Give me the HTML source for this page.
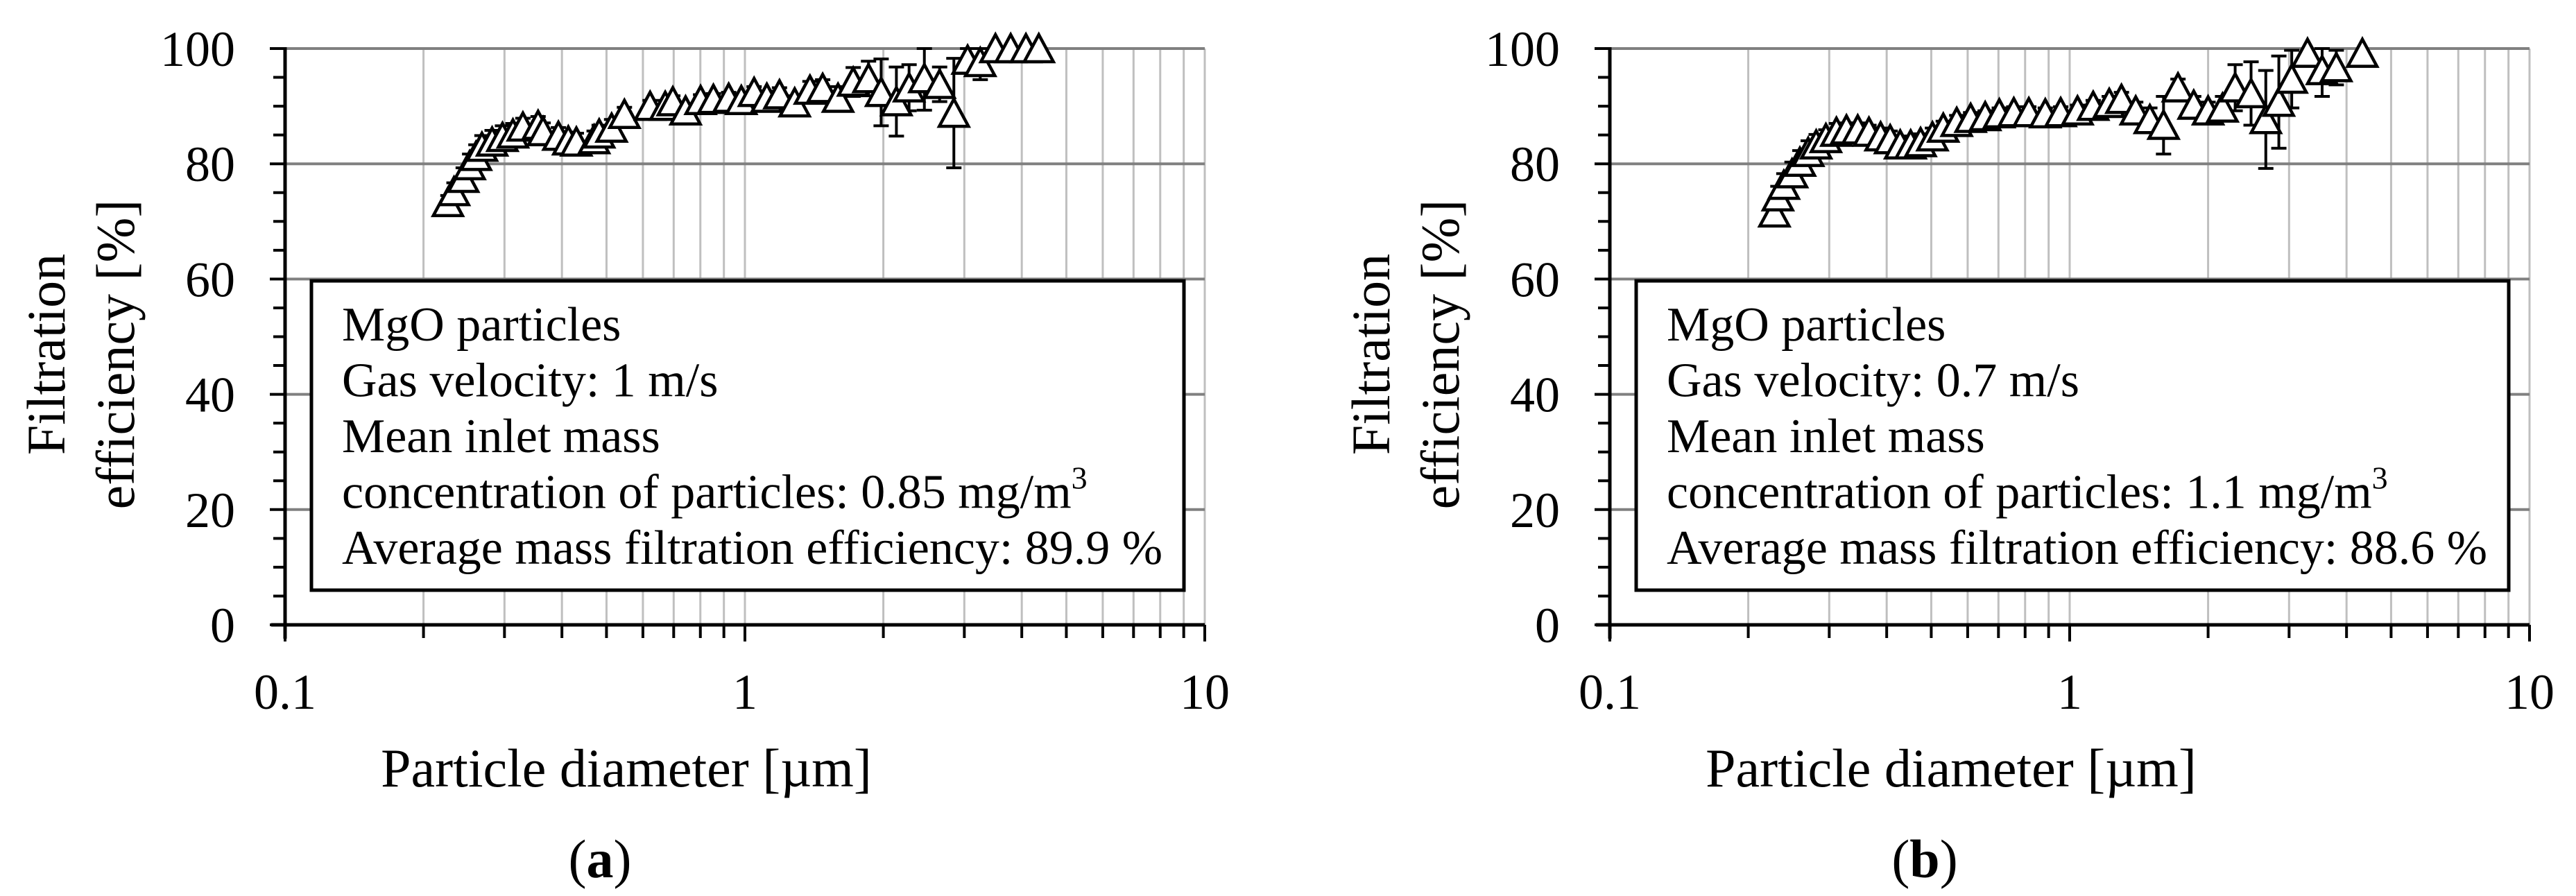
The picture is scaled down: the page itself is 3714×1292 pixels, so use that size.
<!DOCTYPE html>
<html><head><meta charset="utf-8"><style>
html,body{margin:0;padding:0;background:#fff;}
svg{display:block;}
text{font-family:"Liberation Serif","Times New Roman",serif;fill:#000;}
</style></head>
<body>
<svg id="fig" width="3714" height="1292" viewBox="0 0 3714 1292" xmlns="http://www.w3.org/2000/svg">
<g id="chartA"></g>
<g id="chartB"></g>
</svg>
<script>
// Panel (a) data: particle diameter [µm], filtration efficiency [%], error half-width [%]
const diamA = [0.226,0.233,0.244,0.252,0.260,0.268,0.282,0.297,0.313,0.329,0.355,0.364,0.393,0.413,0.430,0.470,0.482,0.513,0.547,0.622,0.671,0.697,0.743,0.801,0.854,0.922,0.982,1.047,1.116,1.189,1.283,1.385,1.476,1.594,1.720,1.857,1.978,2.135,2.275,2.456,2.651,2.847,3.050,3.249,3.506,3.784,4.084,4.356];
const effA = [73.3,75.2,77.5,79.7,81.3,82.9,83.8,84.6,85.2,86.4,86.7,85.6,84.8,84.0,83.8,84.2,85.2,86.2,88.6,90.0,90.0,90.8,89.2,91.0,91.2,91.4,91.0,92.4,91.4,92.0,90.6,92.8,93.1,91.4,94.2,94.8,92.4,90.8,93.2,94.8,93.8,88.8,98.0,97.6,100,100,100,100];
const errA = [1.2,1.5,1.8,2.0,2.0,2.0,2.0,2.0,1.8,1.5,1.5,1.5,1.5,1.5,1.5,1.5,1.5,1.5,1.2,1.0,1.0,1.0,1.0,1.0,1.0,1.0,1.0,1.0,1.2,1.2,1.2,1.5,1.5,2.0,2.5,3.0,5.8,6.0,4.0,5.5,3.0,9.5,2.0,3.0,0,0,0,0];
// Panel (b) data
const diamB = [0.228,0.232,0.239,0.249,0.259,0.270,0.281,0.295,0.311,0.327,0.346,0.366,0.388,0.407,0.428,0.451,0.474,0.503,0.531,0.568,0.609,0.655,0.703,0.756,0.815,0.885,0.956,1.040,1.125,1.219,1.296,1.392,1.494,1.600,1.720,1.861,2.000,2.150,2.290,2.480,2.670,2.850,3.040,3.290,3.540,3.800,4.330];
const effB = [71.5,74.3,76.3,78.3,80.3,82.0,83.3,84.4,85.5,85.9,85.9,85.5,84.7,84.2,83.3,83.3,83.7,84.7,86.2,87.2,87.9,88.2,88.7,88.9,88.9,88.7,88.9,89.2,90.0,90.5,91.2,89.2,87.7,86.7,93.2,90.2,89.2,89.7,93.2,92.2,87.7,90.7,94.7,99.2,96.2,96.7,99.2];
const errB = [1.5,1.8,2.0,2.0,2.0,2.0,1.8,1.5,1.5,1.2,1.2,1.2,1.5,1.5,1.5,1.5,1.5,1.5,1.2,1.2,1.0,1.0,1.0,1.0,1.0,1.0,1.0,1.0,1.0,1.2,1.2,1.5,2.0,5.0,1.5,1.5,1.5,2.0,4.0,5.5,8.5,8.0,5.0,0,4.5,3.0,0];
const yTicks = [0,20,40,60,80,100];
const xTickLabels = ["0.1","1","10"];
const xTickValues = [0.1,1,10];
const textA = ["MgO particles","Gas velocity: 1 m/s","Mean inlet mass","concentration of particles: 0.85 mg/m","Average mass filtration efficiency: 89.9 %"];
const textB = ["MgO particles","Gas velocity: 0.7 m/s","Mean inlet mass","concentration of particles: 1.1 mg/m","Average mass filtration efficiency: 88.6 %"];

const NS = "http://www.w3.org/2000/svg";
function mk(parent, tag, attrs, txt) {
  const e = document.createElementNS(NS, tag);
  for (const k in attrs) e.setAttribute(k, attrs[k]);
  if (txt !== undefined) e.textContent = txt;
  parent.appendChild(e);
  return e;
}

function drawChart(g, x0, diam, eff, err, lines, label) {
  const D = 663;
  const yB = 901, yT = 70;
  const xs = d => x0 + Math.log10(d / 0.1) * D;
  const ys = v => yB - (v / 100) * (yB - yT);
  const xR = xs(10);

  // vertical grid (log)
  for (let dec = 0; dec < 2; dec++) {
    for (let m = 2; m <= 10; m++) {
      const v = Math.pow(10, dec - 1) * m;
      const ln = mk(g, "line", {x1: xs(v), x2: xs(v), y1: yT, y2: yB, stroke: "#bfbfbf", "stroke-width": 3});
      
      
    }
  }
  // horizontal grid
  yTicks.forEach(t => {
    if (t === 0) return;
    const ln = mk(g, "line", {x1: x0, x2: xR, y1: ys(t), y2: ys(t), stroke: "#808080", "stroke-width": 4});
    
    
  });
  // text box
  const bx = x0 + 38;
  const box = mk(g, "rect", {x: bx, y: 405, width: 1258, height: 446, fill: "#fff", stroke: "#000", "stroke-width": 5});
  
  
  lines.forEach((s, i) => {
    const t = mk(g, "text", {x: bx + 44, y: 491 + i * 80.5, "font-size": 70});
    t.textContent = s;
    if (i === 3) {
      const sup = mk(t, "tspan", {dy: -28, "font-size": 46}, "3");
    }
    
    
  });
  // error bars
  diam.forEach((d, i) => {
    if (!err[i]) return;
    const x = xs(d), y1 = ys(Math.min(100, eff[i] + err[i])), y2 = ys(eff[i] - err[i]);
    const eb = mk(g, "g", {stroke: "#000", "stroke-width": 4});
    mk(eb, "line", {x1: x, x2: x, y1: y1, y2: y2});
    mk(eb, "line", {x1: x - 11, x2: x + 11, y1: y1, y2: y1});
    mk(eb, "line", {x1: x - 11, x2: x + 11, y1: y2, y2: y2});
    
    
  });
  // markers
  diam.forEach((d, i) => {
    const x = xs(d), y = ys(eff[i]);
    const p = mk(g, "polygon", {points: `${x},${y - 20} ${x - 21},${y + 19} ${x + 21},${y + 19}`, fill: "#fff", stroke: "#000", "stroke-width": 4.5, "stroke-linejoin": "miter"});
    
    
  });
  // axes
  const ya = mk(g, "line", {x1: x0, x2: x0, y1: yT - 2, y2: yB + 20, stroke: "#000", "stroke-width": 5});
  
  
  const xa = mk(g, "line", {x1: x0 - 20, x2: xR, y1: yB, y2: yB, stroke: "#000", "stroke-width": 5});
  
  
  for (let v = 0; v <= 100; v += 5) {
    const major = v % 20 === 0;
    const tk = mk(g, "line", {x1: x0 - (major ? 22 : 17), x2: x0, y1: ys(v), y2: ys(v), stroke: "#000", "stroke-width": 4});
    
    
  }
  yTicks.forEach(t => {
    const tl = mk(g, "text", {x: x0 - 72, y: ys(t) + 25, "font-size": 72, "text-anchor": "end"}, String(t));
    
    
  });
  for (let dec = 0; dec < 2; dec++) {
    for (let m = 1; m <= 10; m++) {
      if (dec === 1 && m === 1) continue;
      const v = Math.pow(10, dec - 1) * m;
      const major = (m === 1 || m === 10);
      const tk = mk(g, "line", {x1: xs(v), x2: xs(v), y1: yB, y2: yB + (major ? 24 : 19), stroke: "#000", "stroke-width": 4});
      
      
    }
  }
  xTickValues.forEach((v, i) => {
    const tl = mk(g, "text", {x: xs(v), y: 1022, "font-size": 72, "text-anchor": "middle"}, xTickLabels[i]);
    
    
  });
  // axis titles
  const xt = mk(g, "text", {x: x0 + 492, y: 1134, "font-size": 78, "text-anchor": "middle"}, "Particle diameter [µm]");
  
  
  const yt = mk(g, "text", {transform: `translate(${x0 - 318},511) rotate(-90)`, "font-size": 78, "text-anchor": "middle"});
  mk(yt, "tspan", {x: 0, y: 0}, "Filtration");
  mk(yt, "tspan", {x: 0, y: 100}, "efficiency [%]");
  
  
  const cap = mk(g, "text", {x: x0 + 454, y: 1265, "font-size": 78, "text-anchor": "middle"});
  mk(cap, "tspan", {}, "(");
  mk(cap, "tspan", {"font-weight": "bold"}, label);
  mk(cap, "tspan", {}, ")");
  
  
}

drawChart(document.getElementById("chartA"), 411, diamA, effA, errA, textA, "a");
drawChart(document.getElementById("chartB"), 2321, diamB, effB, errB, textB, "b");
</script>
</body></html>
